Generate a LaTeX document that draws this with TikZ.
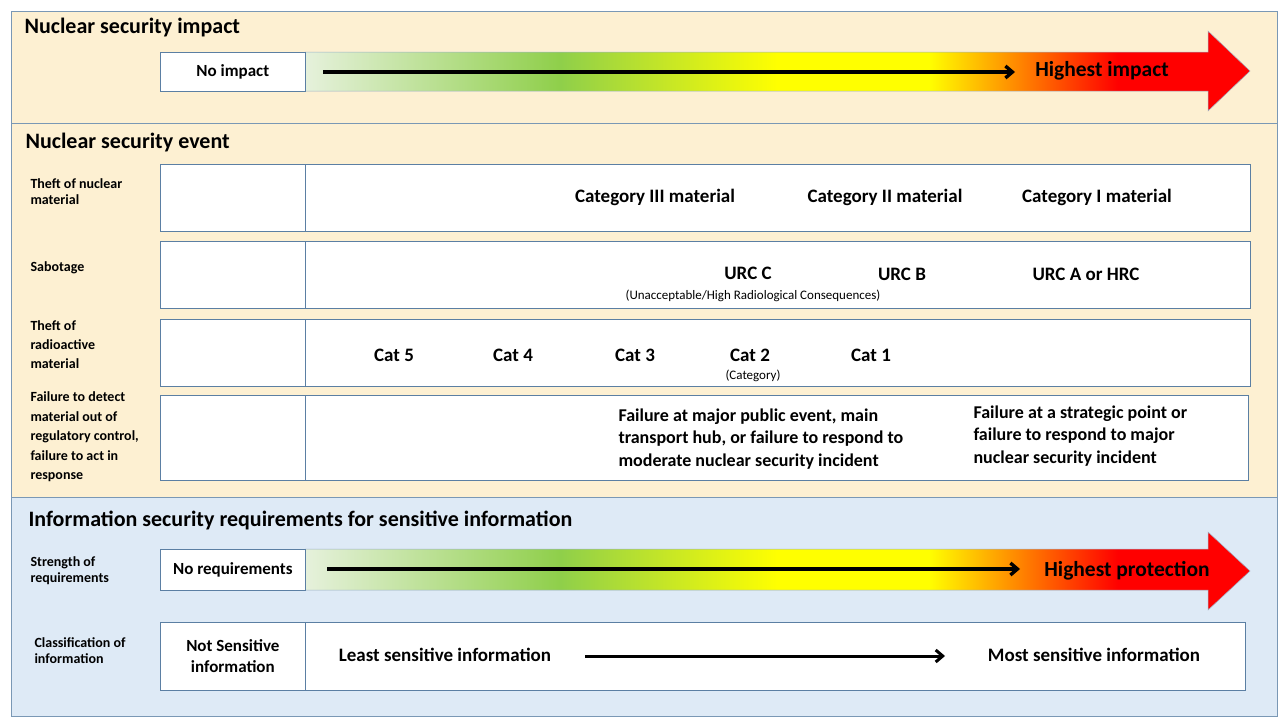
\documentclass[tikz,border=0pt]{standalone}
\usepackage{fontspec}
\setmainfont{Carlito}
\usetikzlibrary{arrows.meta}
\definecolor{cream}{HTML}{FDF0D2}
\definecolor{paleblue}{HTML}{DEEAF6}
\definecolor{frame}{HTML}{7A98B5}
\definecolor{boxline}{HTML}{5B7FA3}
\definecolor{gA}{HTML}{E6F1DC}
\definecolor{gB}{HTML}{8FCF4A}
\pgfdeclarehorizontalshading{heat}{100bp}{color(0bp)=(gA); color(25bp)=(gA); color(38.5bp)=(gB); color(50bp)=(yellow); color(58bp)=(yellow); color(63bp)=(orange); color(68bp)=(red); color(75bp)=(red); color(100bp)=(red)}
\begin{document}
\begin{tikzpicture}[x=1pt,y=-1pt,
  panel/.style={draw=frame,line width=0.8pt},
  wbox/.style={draw=boxline,fill=white,line width=0.7pt},
  rowlab/.style={font=\fontsize{14}{16}\selectfont\bfseries,align=left,anchor=west},
  big/.style={font=\fontsize{19}{22}\selectfont\bfseries},
  small/.style={font=\fontsize{13}{15}\selectfont},
  head/.style={font=\fontsize{22}{26}\selectfont\bfseries,anchor=west},
  blk/.style={-{Straight Barb[length=7pt,width=12pt]},line width=3.4pt},
  grad/.style={shading=heat,draw=boxline!60,line width=0.5pt}]
\useasboundingbox (0,0) rectangle (1280,720);
\fill[white] (0,0) rectangle (1280,720);
% panels
\draw[panel,fill=cream] (11,11) rectangle (1277,123);
\draw[panel,fill=cream] (11,123) rectangle (1277,497);
\draw[panel,fill=paleblue] (11,497) rectangle (1277,716);
\node[head] (h1) at (21,28) {Nuclear security impact};
\node[head] (h2) at (22,143) {Nuclear security event};
\node[head] (h3) at (25,520) {Information security requirements for sensitive information};
% impact arrow
\shade[grad] (305,52) -- (1208,52) -- (1208,31) -- (1250,71) -- (1208,111) -- (1208,91) -- (305,91) -- cycle;
\node[wbox,minimum width=145pt,minimum height=39pt,anchor=north west,font=\fontsize{17}{19}\selectfont\bfseries] (noimp) at (160,52) {No impact};
\coordinate (a1s) at (323,72); \coordinate (a1e) at (1015,72);
\draw[blk] (a1s) -- (a1e);
\node[font=\fontsize{21.5}{24}\selectfont\bfseries] (hi) at (1102,71) {Highest impact};
% event rows
\foreach \t/\b/\r in {164/231/1250,241/308/1250,319/386/1250,395/480/1248}{
  \draw[wbox] (160,\t) rectangle (305,\b);
  \draw[wbox] (305,\t) rectangle (\r,\b);
}
\node[rowlab] (l1) at (27,192) {Theft of nuclear\\material};
\node[rowlab] (l2) at (27,268) {Sabotage};
\node[rowlab,font=\fontsize{14}{19}\selectfont\bfseries] (l3) at (27,345) {Theft of\\radioactive\\material};
\node[rowlab,font=\fontsize{14}{19.5}\selectfont\bfseries] (l4) at (27,437) {Failure to detect\\material out of\\regulatory control,\\failure to act in\\response};
\node[big] (c3) at (655,197) {Category III material};
\node[big] (c2) at (885,197) {Category II material};
\node[big] (c1) at (1097,197) {Category I material};
\node[big] (uc) at (748,273) {URC C};
\node[big] (ub) at (902,274) {URC B};
\node[big] (ua) at (1086,274) {URC A or HRC};
\node[small] (urc) at (753,296) {(Unacceptable/High Radiological Consequences)};
\node[big] (k5) at (394,355) {Cat 5};
\node[big] (k4) at (513,355) {Cat 4};
\node[big] (k3) at (635,355) {Cat 3};
\node[big] (k2) at (750,355) {Cat 2};
\node[big] (k1) at (871,355) {Cat 1};
\node[small] (kc) at (753,376) {(Category)};
\node[big,font=\fontsize{18}{22.5}\selectfont\bfseries,align=left,anchor=north west] (f1) at (615,405) {Failure at major public event, main\\transport hub, or failure to respond to\\moderate nuclear security incident};
\node[big,font=\fontsize{18}{22.5}\selectfont\bfseries,align=left,anchor=north west] (f2) at (970,402) {Failure at a strategic point or\\failure to respond to major\\nuclear security incident};
% info
\node[rowlab] (l5) at (27,571) {Strength of\\requirements};
\node[rowlab] (l6) at (31,651) {Classification of\\information};
\shade[grad] (305,549) -- (1208,549) -- (1208,532) -- (1250,571) -- (1208,610) -- (1208,590) -- (305,590) -- cycle;
\node[wbox,minimum width=145pt,minimum height=41pt,anchor=north west,font=\fontsize{17}{19}\selectfont\bfseries] (noreq) at (160,549) {No requirements};
\coordinate (a2s) at (327,569); \coordinate (a2e) at (1020,569);
\draw[blk] (a2s) -- (a2e);
\node[font=\fontsize{21.5}{24}\selectfont\bfseries] (hp) at (1127,571) {Highest protection};
\node[wbox,minimum width=145pt,minimum height=68pt,anchor=north west,font=\fontsize{17}{21}\selectfont\bfseries,align=center] (ns) at (160,622) {Not Sensitive\\information};
\draw[wbox] (305,622) rectangle (1245,690);
\node[big] (least) at (445,655) {Least sensitive information};
\node[big] (most) at (1094,655) {Most sensitive information};
\coordinate (a3s) at (585,656); \coordinate (a3e) at (945,656);
\draw[blk,line width=3pt] (a3s) -- (a3e);
\end{tikzpicture}
\end{document}
